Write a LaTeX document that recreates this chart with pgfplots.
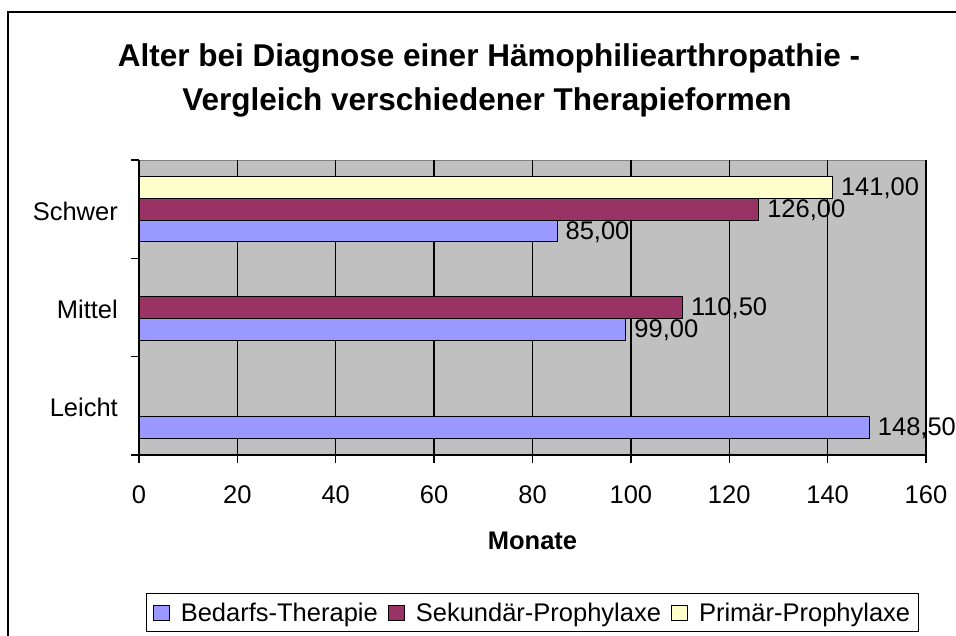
\documentclass[border=0pt]{standalone}
\usepackage{fontspec}
\setmainfont{Liberation Sans}
\usepackage{pgfplots}
\pgfplotsset{compat=1.18}
\definecolor{cBed}{HTML}{9999FF}
\definecolor{cSek}{HTML}{993366}
\definecolor{cPri}{HTML}{FFFFCC}
\definecolor{cBg}{HTML}{C0C0C0}
\newcommand{\fs}{\fontsize{25.5}{30}\selectfont}
\begin{document}
\begin{tikzpicture}[x=1pt,y=1pt]
\path[use as bounding box] (0,0) rectangle (956,635);
\draw[line width=1.3pt] (8,-5) -- (8,623) -- (962,623);
\node[anchor=base, font=\fontsize{31.5}{37}\selectfont\bfseries] at (489,568) {Alter bei Diagnose einer Hämophiliearthropathie -};
\node[anchor=base, font=\fontsize{31.5}{37}\selectfont\bfseries] at (487,524) {Vergleich verschiedener Therapieformen};
\begin{axis}[
  at={(139pt,180pt)}, anchor=south west,
  scale only axis, width=787pt, height=295pt,
  xbar, bar width=21.7pt,
  xmin=0, xmax=160, ymin=-0.5, ymax=2.5,
  xtick={0,20,...,160},
  ytick={-0.5,0.5,1.5,2.5},
  yticklabels={Leicht,Mittel,Schwer},
  y tick label as interval,
  axis x line*=bottom, axis y line*=left,
  axis line style={line width=1.3pt, black, -},
  axis background/.style={fill=cBg, draw=gray, line width=1pt},
  xmajorgrids, major grid style={black, line width=1.3pt},
  tick align=outside, major tick length=8pt,
  tick style={line width=1.3pt, black},
  /pgf/number format/assume math mode=true,
  tick label style={font=\fs},
  xticklabel style={inner sep=0pt, yshift=-22pt},
  yticklabel style={inner sep=0pt, xshift=-13pt, yshift=-2pt},
  xlabel={\bfseries Monate},
  xlabel style={font=\fs, at={(axis description cs:0.5,-0.29)}, anchor=center},
  point meta=x,
  nodes near coords={\pgfmathprintnumber[fixed,fixed zerofill,precision=2,use comma,assume math mode=true]{\pgfplotspointmeta}},
  nodes near coords style={anchor=west, inner sep=0pt, xshift=8pt, yshift=-1pt, font=\fs, black},
  legend columns=3,
  legend style={at={(0.5,-0.535)}, anchor=center, draw=black, line width=1.3pt, font=\fs,
    inner xsep=6pt, inner ysep=7pt,
    /tikz/every odd column/.append style={column sep=9pt},
    /tikz/every even column/.append style={column sep=8pt}},
  legend image code/.code={\draw[#1, draw=black, line width=1pt] (0pt,-7.5pt) rectangle (16pt,7.5pt);},
]
\addplot[fill=cBed, draw=black, line width=1pt, bar shift=-21.7pt] coordinates {(148.5,0) (99,1) (85,2)};
\addplot[fill=cSek, draw=black, line width=1pt, bar shift=0pt] coordinates {(110.5,1) (126,2)};
\addplot[fill=cPri, draw=black, line width=1pt, bar shift=21.7pt] coordinates {(141,2)};
\legend{Bedarfs-Therapie,Sekundär-Prophylaxe,Primär-Prophylaxe}
\end{axis}
\end{tikzpicture}
\end{document}
